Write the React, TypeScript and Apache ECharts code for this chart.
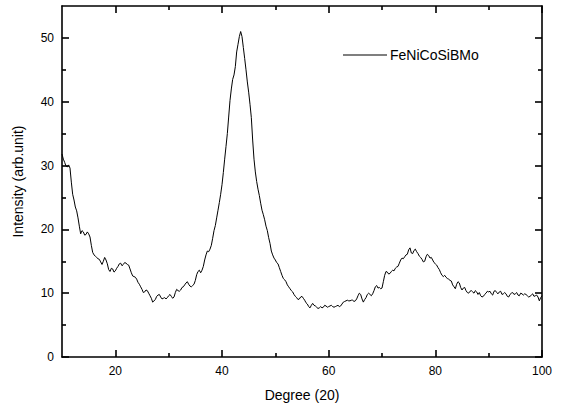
import React, { useEffect, useRef } from "react";
import * as echarts from "echarts";

// [2θ degree, intensity]
const scan: [number, number][] = [
  [10.0, 31.8], [10.25, 31.0], [10.5, 30.5], [10.75, 29.9], [11.0, 29.8], [11.25, 30.1], [11.5, 29.6], [11.75, 27.4],
  [12.0, 25.5], [12.25, 24.6], [12.5, 23.5], [12.75, 22.9], [13.0, 21.8], [13.25, 20.5], [13.5, 19.3], [13.75, 19.8],
  [14.0, 19.6], [14.25, 19.1], [14.5, 19.2], [14.75, 19.6], [15.0, 19.3], [15.25, 18.8], [15.5, 17.5], [15.75, 16.4],
  [16.0, 16.0], [16.25, 15.8], [16.5, 15.6], [16.75, 15.4], [17.0, 15.3], [17.25, 14.9], [17.5, 14.5], [17.75, 15.0],
  [18.0, 15.6], [18.25, 15.2], [18.5, 14.6], [18.75, 13.7], [19.0, 13.4], [19.25, 13.9], [19.5, 13.8], [19.75, 13.3],
  [20.0, 13.5], [20.25, 13.9], [20.5, 14.2], [20.75, 14.6], [21.0, 14.7], [21.25, 14.3], [21.5, 14.5], [21.75, 14.8],
  [22.0, 14.7], [22.25, 14.5], [22.5, 14.4], [22.75, 13.8], [23.0, 13.2], [23.25, 12.7], [23.5, 12.6], [23.75, 12.5],
  [24.0, 12.2], [24.25, 11.7], [24.5, 11.4], [24.75, 11.0], [25.0, 10.6], [25.25, 10.1], [25.5, 10.2], [25.75, 10.5],
  [26.0, 10.4], [26.25, 10.0], [26.5, 9.6], [26.75, 9.2], [27.0, 8.6], [27.25, 8.8], [27.5, 9.0], [27.75, 9.5],
  [28.0, 9.7], [28.25, 9.8], [28.5, 9.4], [28.75, 9.1], [29.0, 9.2], [29.25, 9.3], [29.5, 9.1], [29.75, 9.3],
  [30.0, 9.6], [30.25, 9.8], [30.5, 9.5], [30.75, 9.2], [31.0, 9.4], [31.25, 10.1], [31.5, 10.6], [31.75, 10.4],
  [32.0, 10.3], [32.25, 10.5], [32.5, 10.9], [32.75, 11.0], [33.0, 11.3], [33.25, 11.6], [33.5, 11.8], [33.75, 11.4],
  [34.0, 11.1], [34.25, 11.0], [34.5, 11.2], [34.75, 11.4], [35.0, 12.0], [35.25, 12.9], [35.5, 13.4], [35.75, 13.6],
  [36.0, 13.2], [36.25, 13.6], [36.5, 14.2], [36.75, 15.2], [37.0, 16.0], [37.25, 16.6], [37.5, 16.5], [37.75, 16.9],
  [38.0, 17.5], [38.25, 18.6], [38.5, 19.8], [38.75, 20.6], [39.0, 21.8], [39.25, 23.0], [39.5, 24.2], [39.75, 25.5],
  [40.0, 27.0], [40.25, 28.9], [40.5, 31.0], [40.75, 33.0], [41.0, 35.0], [41.25, 37.6], [41.5, 40.2], [41.75, 42.0],
  [42.0, 43.5], [42.25, 44.2], [42.5, 45.5], [42.75, 47.8], [43.0, 49.0], [43.25, 50.2], [43.5, 51.0], [43.75, 50.2],
  [44.0, 48.5], [44.25, 46.8], [44.5, 45.0], [44.75, 43.1], [45.0, 41.5], [45.25, 39.6], [45.5, 37.5], [45.75, 34.0],
  [46.0, 31.0], [46.25, 29.0], [46.5, 27.5], [46.75, 26.3], [47.0, 25.3], [47.25, 24.1], [47.5, 23.0], [47.75, 22.3],
  [48.0, 21.5], [48.25, 20.5], [48.5, 19.8], [48.75, 18.7], [49.0, 17.8], [49.25, 16.6], [49.5, 16.0], [49.75, 15.5],
  [50.0, 15.2], [50.25, 14.8], [50.5, 14.6], [50.75, 14.0], [51.0, 13.4], [51.25, 12.8], [51.5, 12.3], [51.75, 12.1],
  [52.0, 11.8], [52.25, 11.3], [52.5, 11.0], [52.75, 10.7], [53.0, 10.4], [53.25, 10.2], [53.5, 9.8], [53.75, 9.5],
  [54.0, 9.3], [54.25, 9.0], [54.5, 9.1], [54.75, 9.4], [55.0, 9.5], [55.25, 9.2], [55.5, 8.9], [55.75, 8.5],
  [56.0, 8.3], [56.25, 7.9], [56.5, 7.7], [56.75, 8.1], [57.0, 8.4], [57.25, 8.1], [57.5, 8.0], [57.75, 7.8],
  [58.0, 7.6], [58.25, 7.7], [58.5, 7.9], [58.75, 7.7], [59.0, 7.8], [59.25, 8.1], [59.5, 8.0], [59.75, 7.8],
  [60.0, 7.9], [60.25, 8.0], [60.5, 8.1], [60.75, 7.9], [61.0, 7.8], [61.25, 7.9], [61.5, 8.0], [61.75, 8.1],
  [62.0, 7.9], [62.25, 8.0], [62.5, 8.3], [62.75, 8.6], [63.0, 8.7], [63.25, 8.8], [63.5, 8.9], [63.75, 8.8],
  [64.0, 8.8], [64.25, 8.9], [64.5, 8.9], [64.75, 8.7], [65.0, 8.8], [65.25, 9.1], [65.5, 9.6], [65.75, 10.0],
  [66.0, 9.8], [66.25, 9.1], [66.5, 8.6], [66.75, 9.0], [67.0, 9.3], [67.25, 9.8], [67.5, 10.0], [67.75, 9.8],
  [68.0, 9.6], [68.25, 9.9], [68.5, 10.4], [68.75, 11.0], [69.0, 11.2], [69.25, 10.8], [69.5, 10.9], [69.75, 10.7],
  [70.0, 10.8], [70.25, 11.8], [70.5, 12.8], [70.75, 13.4], [71.0, 13.3], [71.25, 13.0], [71.5, 13.1], [71.75, 13.4],
  [72.0, 13.6], [72.25, 13.5], [72.5, 13.9], [72.75, 14.1], [73.0, 14.2], [73.25, 14.7], [73.5, 15.2], [73.75, 15.5],
  [74.0, 15.4], [74.25, 15.7], [74.5, 16.0], [74.75, 16.1], [75.0, 16.8], [75.25, 17.1], [75.5, 16.3], [75.75, 16.2],
  [76.0, 16.7], [76.25, 16.9], [76.5, 16.5], [76.75, 16.2], [77.0, 15.8], [77.25, 15.6], [77.5, 15.3], [77.75, 14.9],
  [78.0, 15.0], [78.25, 15.7], [78.5, 16.1], [78.75, 15.9], [79.0, 15.5], [79.25, 15.6], [79.5, 15.2], [79.75, 14.8],
  [80.0, 14.6], [80.25, 14.4], [80.5, 14.0], [80.75, 13.7], [81.0, 13.2], [81.25, 12.8], [81.5, 12.6], [81.75, 12.8],
  [82.0, 12.5], [82.25, 12.3], [82.5, 12.2], [82.75, 12.0], [83.0, 11.9], [83.25, 11.3], [83.5, 11.0], [83.75, 10.7],
  [84.0, 11.4], [84.25, 11.8], [84.5, 11.6], [84.75, 10.9], [85.0, 10.5], [85.25, 10.8], [85.5, 10.9], [85.75, 10.4],
  [86.0, 10.1], [86.25, 10.0], [86.5, 10.3], [86.75, 10.4], [87.0, 10.2], [87.25, 10.0], [87.5, 10.4], [87.75, 10.2],
  [88.0, 9.8], [88.25, 10.1], [88.5, 9.6], [88.75, 9.4], [89.0, 9.5], [89.25, 9.8], [89.5, 10.0], [89.75, 10.3],
  [90.0, 10.2], [90.25, 10.3], [90.5, 9.9], [90.75, 9.7], [91.0, 10.3], [91.25, 10.4], [91.5, 10.1], [91.75, 9.9],
  [92.0, 10.2], [92.25, 10.3], [92.5, 9.8], [92.75, 9.9], [93.0, 10.1], [93.25, 9.9], [93.5, 9.5], [93.75, 9.4],
  [94.0, 9.8], [94.25, 10.0], [94.5, 10.1], [94.75, 9.8], [95.0, 9.9], [95.25, 10.1], [95.5, 9.7], [95.75, 9.6],
  [96.0, 10.0], [96.25, 9.9], [96.5, 9.7], [96.75, 9.9], [97.0, 9.8], [97.25, 9.6], [97.5, 9.4], [97.75, 9.5],
  [98.0, 9.7], [98.25, 9.9], [98.5, 9.5], [98.75, 9.6], [99.0, 9.7], [99.25, 9.4], [99.5, 8.8], [99.75, 9.3],
  [100.0, 9.6],
];

const xMajorTicks: number[] = [20, 40, 60, 80, 100];
const xMinorTicks: number[] = [30, 50, 70, 90];
const yMajorTicks: number[] = [0, 10, 20, 30, 40, 50];
const yMinorTicks: number[] = [5, 15, 25, 35, 45];

const seriesName = "FeNiCoSiBMo";
const xTitle = "Degree (20)";
const yTitle = "Intensity (arb.unit)";

export default function App() {
  const ref = useRef<HTMLDivElement>(null);
  useEffect(() => {
    if (!ref.current) return;
    const chart = echarts.init(ref.current, null, { renderer: "svg" });
    const font = "Liberation Sans, Arial, sans-serif";
    const lineStyle = { color: "#000", width: 1.6 };
    const mkX = (position: "top" | "bottom", ticks: number[], len: number, main: boolean) => ({
      type: "value",
      position,
      min: 10,
      max: 100,
      interval: 10,
      axisLine: { show: main, onZero: false, lineStyle },
      axisTick: { show: true, inside: true, length: len, customValues: ticks, lineStyle },
      axisLabel: main && position === "bottom"
        ? { show: true, customValues: xMajorTicks, color: "#000", fontSize: 12, fontFamily: font, margin: 8 }
        : { show: false },
      splitLine: { show: false },
      name: main && position === "bottom" ? xTitle : "",
      nameLocation: "middle",
      nameGap: 31,
      nameTextStyle: { color: "#000", fontSize: 14, fontFamily: font },
    });
    const mkY = (position: "left" | "right", ticks: number[], len: number, main: boolean) => ({
      type: "value",
      position,
      min: 0,
      max: 55,
      interval: 5,
      axisLine: { show: main, onZero: false, lineStyle },
      axisTick: { show: true, inside: true, length: len, customValues: ticks, lineStyle },
      axisLabel: main && position === "left"
        ? { show: true, customValues: yMajorTicks, color: "#000", fontSize: 12, fontFamily: font, margin: 8 }
        : { show: false },
      splitLine: { show: false },
      name: main && position === "left" ? yTitle : "",
      nameLocation: "middle",
      nameGap: 37,
      nameTextStyle: { color: "#000", fontSize: 14, fontFamily: font },
    });
    chart.setOption({
      animation: false,
      backgroundColor: "#fff",
      grid: { left: 62, right: 20, top: 6, bottom: 55, containLabel: false },
      legend: {
        show: true,
        orient: "horizontal",
        left: 338,
        top: 43,
        itemWidth: 44,
        itemHeight: 1,
        itemGap: 3,
        icon: "rect",
        textStyle: { color: "#000", fontSize: 14, fontFamily: font, padding: [0, 0, 0, -2] },
        data: [seriesName],
      },
      xAxis: [
        mkX("bottom", xMajorTicks, 7, true),
        mkX("bottom", xMinorTicks, 4, false),
        mkX("top", xMajorTicks, 7, true),
        mkX("top", xMinorTicks, 4, false),
      ],
      yAxis: [
        mkY("left", yMajorTicks, 7, true),
        mkY("left", yMinorTicks, 4, false),
        mkY("right", yMajorTicks, 7, true),
        mkY("right", yMinorTicks, 4, false),
      ],
      series: [
        {
          name: seriesName,
          type: "line",
          xAxisIndex: 0,
          yAxisIndex: 0,
          symbol: "none",
          showSymbol: false,
          lineStyle: { color: "#000", width: 1 },
          itemStyle: { color: "#000" },
          data: scan,
        },
      ],
    });
    return () => chart.dispose();
  }, []);
  return (
    <div
      ref={ref}
      style={{ position: "fixed", left: 0, top: 0, width: 562, height: 412, background: "#fff" }}
    />
  );
}
